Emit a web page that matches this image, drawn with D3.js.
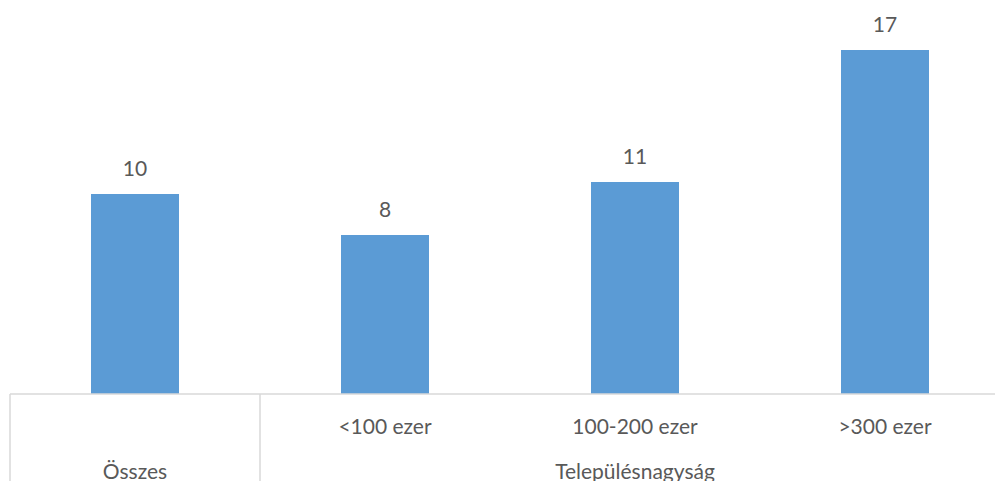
<!DOCTYPE html>
<meta charset="utf-8">
<style>
    body {
        margin: 0;
        background-color: #ffffff;
        overflow: hidden;
    }

    .bar {
        fill: #5B9BD5;
    }

    text {
        font-family: Lato, "Open Sans", sans-serif;
        font-size: 21px;
        fill: #595959;
    }

    .grid line {
        stroke: #D9D9D9;
        stroke-width: 1.5px;
    }
</style>

<body>
    <svg width="995" height="481"></svg>
    <script src="https://d3js.org/d3.v7.min.js"></script>
    <script>
        // data
        var categories = ["Összes", "<100 ezer", "100-200 ezer", ">300 ezer"];
        var values = [10, 7.95, 10.6, 17.2];
        var innerLabels = ["", "<100 ezer", "100-200 ezer", ">300 ezer"];
        var groupLabels = ["Összes", "Településnagyság"];
        var groupSizes = [1, 3];

        var svg = d3.select("svg"),
            axisY = 394,
            left = 10,
            right = 1010; // plot runs past the right edge, like the original

        // one 250px slot per category, bar 88px wide in the middle
        var slot = d3.scaleBand()
            .domain(categories)
            .range([left, right]);

        var x = d3.scaleBand()
            .domain(categories)
            .range([left, right])
            .paddingInner(0.648)
            .paddingOuter(0.324);

        var y = d3.scaleLinear()
            .domain([0, 20])
            .range([axisY, axisY - 400]);

        var fmt = d3.format(".0f");

        svg.selectAll(".bar")
            .data(values)
            .enter().append("rect")
            .attr("class", "bar")
            .attr("x", function(d, i) { return x(categories[i]); })
            .attr("width", x.bandwidth())
            .attr("y", function(d) { return y(d); })
            .attr("height", function(d) { return y(0) - y(d); });

        svg.selectAll(".value")
            .data(values)
            .enter().append("text")
            .attr("class", "value")
            .attr("text-anchor", "middle")
            .attr("x", function(d, i) { return x(categories[i]) + x.bandwidth() / 2; })
            .attr("y", function(d) { return y(d) - 18; })
            .text(function(d) { return fmt(d); });

        // category axis: base line plus group boundaries
        var grid = svg.append("g").attr("class", "grid");
        grid.append("line")
            .attr("x1", left).attr("x2", right)
            .attr("y1", axisY).attr("y2", axisY);

        var starts = [0];
        groupSizes.forEach(function(n, i) { starts.push(starts[i] + n); });

        grid.selectAll(".sep")
            .data(starts.slice(0, -1))
            .enter().append("line")
            .attr("class", "sep")
            .attr("x1", function(i) { return slot(categories[i]); })
            .attr("x2", function(i) { return slot(categories[i]); })
            .attr("y1", axisY).attr("y2", 481);

        svg.selectAll(".inner")
            .data(innerLabels)
            .enter().append("text")
            .attr("class", "inner")
            .attr("text-anchor", "middle")
            .attr("x", function(d, i) { return slot(categories[i]) + slot.bandwidth() / 2; })
            .attr("y", 434)
            .text(function(d) { return d; });

        svg.selectAll(".group")
            .data(groupLabels)
            .enter().append("text")
            .attr("class", "group")
            .attr("text-anchor", "middle")
            .attr("x", function(d, i) {
                var a = slot(categories[starts[i]]);
                var b = slot(categories[starts[i] + groupSizes[i] - 1]) + slot.bandwidth();
                return (a + b) / 2;
            })
            .attr("y", 479)
            .text(function(d) { return d; });
    </script>
</body>
